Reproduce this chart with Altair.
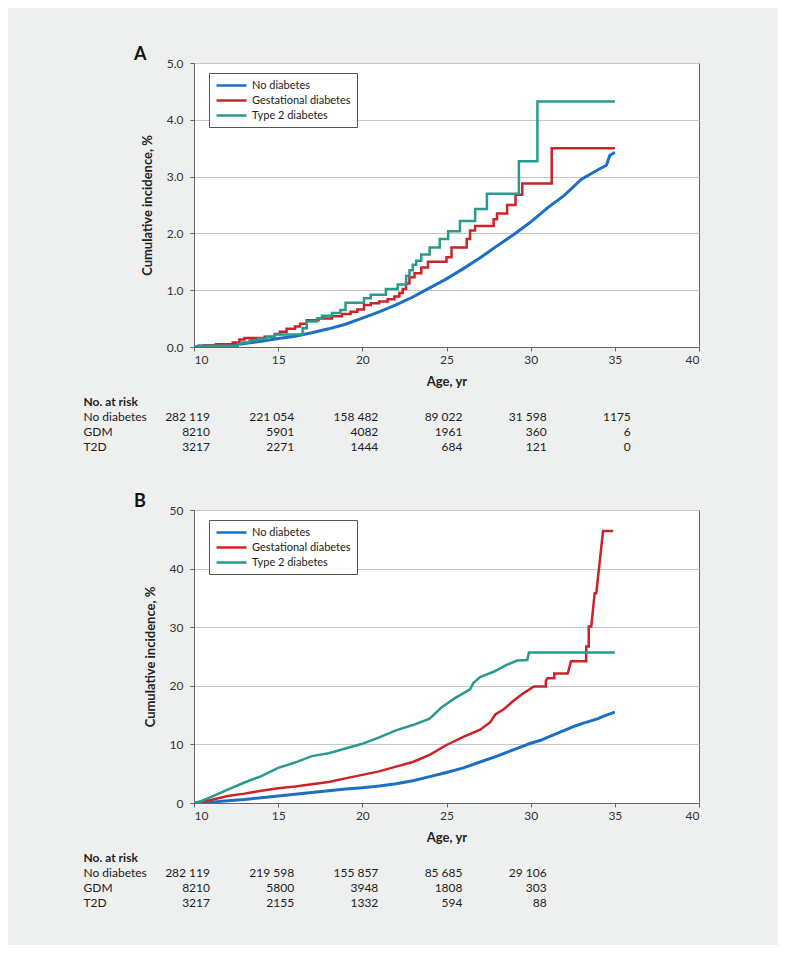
import altair as alt
import pandas as pd

FONT = "Lato"
SERIES = ["No diabetes", "Gestational diabetes", "Type 2 diabetes"]
COLORS = ["#1c6fc3", "#cc2229", "#2a9a8c"]
ROW_LABELS = ["No diabetes", "GDM", "T2D"]
X_TICKS = [10, 15, 20, 25, 30, 35, 40]

# ---------------- Panel A (cumulative incidence, %) ----------------
A_NO_AGE = [10, 11, 12, 13, 14, 15, 16, 17, 18, 19, 20, 21, 22, 23, 24, 25, 26, 27,
            28, 29, 30, 31, 32, 33, 34, 34.5, 34.7, 35]
A_NO_PCT = [0, 0.01, 0.03, 0.06, 0.10, 0.15, 0.19, 0.25, 0.32, 0.40, 0.51, 0.62, 0.74,
            0.88, 1.04, 1.20, 1.38, 1.57, 1.78, 1.98, 2.20, 2.45, 2.67, 2.95, 3.12, 3.20,
            3.37, 3.43]

A_GDM_AGE = [10.2, 10.6, 11.3, 12.3, 12.7, 13.0, 14.2, 14.8, 15.1, 15.5, 16.0, 16.3, 16.7,
             17.4, 18.2, 18.8, 19.3, 19.7, 20.1, 20.5, 21.0, 21.5, 21.9, 22.2, 22.4, 22.6,
             22.8, 23.1, 23.5, 23.9, 25.0, 25.3, 26.2, 26.4, 26.7, 27.8, 28.0, 28.6, 29.1,
             29.5, 31.25, 35]
A_GDM_PCT = [0.02, 0.03, 0.05, 0.08, 0.13, 0.16, 0.18, 0.23, 0.27, 0.32, 0.36, 0.41, 0.47,
             0.50, 0.54, 0.58, 0.62, 0.66, 0.74, 0.77, 0.80, 0.84, 0.89, 0.95, 1.02, 1.12,
             1.23, 1.30, 1.40, 1.50, 1.58, 1.75, 1.90, 2.05, 2.13, 2.25, 2.35, 2.50, 2.68,
             2.88, 3.50, 3.50]

A_T2D_AGE = [10.2, 12.6, 12.8, 13.3, 13.8, 14.3, 14.8, 16.45, 16.7, 17.3, 17.6, 18.2, 18.7,
             19.0, 20.1, 20.5, 21.4, 22.1, 22.6, 22.8, 23.0, 23.2, 23.5, 24.0, 24.6, 25.1,
             25.8, 26.7, 27.4, 29.3, 30.4, 35]
A_T2D_PCT = [0.02, 0.05, 0.08, 0.12, 0.15, 0.18, 0.22, 0.33, 0.45, 0.50, 0.55, 0.60, 0.65,
             0.78, 0.86, 0.92, 1.02, 1.10, 1.25, 1.35, 1.45, 1.52, 1.63, 1.75, 1.90, 2.04,
             2.22, 2.43, 2.70, 3.27, 4.32, 4.32]

A_RISK_AGES = [10, 15, 20, 25, 30, 35]
A_RISK_NO = ["282 119", "221 054", "158 482", "89 022", "31 598", "1175"]
A_RISK_GDM = ["8210", "5901", "4082", "1961", "360", "6"]
A_RISK_T2D = ["3217", "2271", "1444", "684", "121", "0"]

# ---------------- Panel B (cumulative incidence, %) ----------------
B_NO_AGE = [10, 11, 12, 13, 14, 15, 16, 17, 18, 19, 20, 21, 22, 23, 24, 25, 26, 27, 28,
            29, 30, 30.6, 31, 32, 32.6, 33, 34, 34.3, 35]
B_NO_PCT = [0, 0.15, 0.4, 0.6, 0.9, 1.2, 1.5, 1.8, 2.1, 2.4, 2.6, 2.9, 3.3, 3.8, 4.5, 5.2,
            6.0, 7.0, 8.0, 9.1, 10.2, 10.7, 11.2, 12.4, 13.1, 13.5, 14.4, 14.8, 15.5]

B_GDM_AGE = [10, 11, 12, 13, 14, 15, 16, 17, 18, 19, 20, 21, 22, 23, 24, 25, 26, 27, 27.6,
             27.9, 28.4, 29.0, 29.6, 30.2, 30.9, 30.9, 31.0, 31.4, 31.4, 32.2, 32.4, 33.3,
             33.3, 33.45, 33.45, 33.6, 33.8, 33.9, 34.3, 34.9]
B_GDM_PCT = [0, 0.5, 1.2, 1.6, 2.1, 2.5, 2.8, 3.2, 3.6, 4.2, 4.8, 5.4, 6.2, 7.0, 8.2, 9.9,
             11.3, 12.5, 13.8, 15.1, 16.0, 17.5, 18.8, 19.9, 19.9, 20.8, 21.3, 21.3, 22.1,
             22.1, 24.2, 24.2, 26.7, 26.7, 30.1, 30.1, 35.8, 35.8, 46.4, 46.4]

B_T2D_AGE = [10, 10.4, 11, 12, 13, 14, 15, 16, 17, 18, 19, 20, 21, 22, 23, 24, 24.7, 25.5,
             26.4, 26.6, 27.0, 27.8, 28.6, 29.2, 29.8, 29.9, 35]
B_T2D_PCT = [0, 0.3, 1.0, 2.3, 3.5, 4.6, 6.0, 6.9, 8.0, 8.5, 9.3, 10.1, 11.2, 12.4, 13.3,
             14.4, 16.3, 17.9, 19.4, 20.5, 21.5, 22.4, 23.6, 24.3, 24.4, 25.7, 25.7]

B_RISK_AGES = [10, 15, 20, 25, 30]
B_RISK_NO = ["282 119", "219 598", "155 857", "85 685", "29 106"]
B_RISK_GDM = ["8210", "5800", "3948", "1808", "303"]
B_RISK_T2D = ["3217", "2155", "1332", "594", "88"]


def series_df(ages, pcts, name):
    return pd.DataFrame({"age": ages, "pct": pcts, "series": name,
                         "i": list(range(len(ages)))})


def panel(letter, layers_spec, ymax, yticks, yfmt, height):
    x_enc = alt.X("age:Q", scale=alt.Scale(domain=[10, 40], nice=False, zero=False),
                  axis=alt.Axis(values=X_TICKS, title="Age, yr", grid=False, tickSize=4,
                                labelPadding=3, titlePadding=10, labelFontSize=12,
                                titleFontSize=13, titleFontWeight="bold"))
    y_enc = alt.Y("pct:Q", scale=alt.Scale(domain=[0, ymax], nice=False),
                  axis=alt.Axis(values=yticks, format=yfmt, title="Cumulative incidence, %",
                                grid=True, tickSize=4, labelPadding=7, titlePadding=12,
                                labelFontSize=12, titleFontSize=13, titleFontWeight="bold"))
    color_enc = alt.Color("series:N", scale=alt.Scale(domain=SERIES, range=COLORS),
                          legend=alt.Legend(orient="none", legendX=15, legendY=10, title=None,
                                            symbolType="M-1,0L5,0", symbolSize=100,
                                            symbolStrokeWidth=2.5, labelFont=FONT,
                                            labelFontSize=11, labelColor="#222",
                                            fillColor="white", strokeColor="#555",
                                            padding=6, rowPadding=3, labelOffset=24))
    layers = []
    for df, interp, w in layers_spec:
        layers.append(alt.Chart(df).mark_line(interpolate=interp, strokeWidth=w, clip=True)
                      .encode(x=x_enc, y=y_enc, color=color_enc, order="i:Q"))
    return alt.layer(*layers).properties(
        width=505, height=height,
        title=alt.TitleParams(letter, anchor="start", frame="group", dx=-60, offset=-7,
                              font=FONT, fontSize=18, fontWeight="bold", color="#111"))


def risk_table(ages, no, gdm, t2d):
    rows = []
    for lab, vals in zip(ROW_LABELS, [no, gdm, t2d]):
        for a, v in zip(ages, vals):
            rows.append({"age": a, "row": lab, "txt": v})
    df = pd.DataFrame(rows)
    return alt.Chart(df).mark_text(align="right", baseline="middle", dx=16, font=FONT,
                                   fontSize=12, color="#222").encode(
        x=alt.X("age:Q", scale=alt.Scale(domain=[10, 40], nice=False, zero=False), axis=None),
        y=alt.Y("row:N", sort=ROW_LABELS,
                axis=alt.Axis(title="No. at risk", titleAngle=0, titleAlign="left",
                              titleBaseline="middle", titleX=-111, titleY=-7.5,
                              titleFontSize=12, titleFontWeight="bold",
                              labelAlign="left", labelPadding=111, tickSize=0, ticks=False,
                              domain=False, labelFontSize=12, labelColor="#222")),
        text="txt:N",
    ).properties(width=505, height=45,
                 view=alt.ViewBackground(strokeOpacity=0, fillOpacity=0))


panelA = panel("A", [
    (series_df(A_NO_AGE, A_NO_PCT, SERIES[0]), "linear", 3),
    (series_df(A_GDM_AGE, A_GDM_PCT, SERIES[1]), "step-after", 2.5),
    (series_df(A_T2D_AGE, A_T2D_PCT, SERIES[2]), "step-after", 2.5),
], 5, [0, 1, 2, 3, 4, 5], ".1f", 284)

panelB = panel("B", [
    (series_df(B_NO_AGE, B_NO_PCT, SERIES[0]), "linear", 3),
    (series_df(B_GDM_AGE, B_GDM_PCT, SERIES[1]), "linear", 2.5),
    (series_df(B_T2D_AGE, B_T2D_PCT, SERIES[2]), "linear", 2.5),
], 50, [0, 10, 20, 30, 40, 50], "d", 293)

blockA = alt.vconcat(panelA, risk_table(A_RISK_AGES, A_RISK_NO, A_RISK_GDM, A_RISK_T2D),
                     spacing=6).resolve_legend(color="independent")
blockB = alt.vconcat(panelB, risk_table(B_RISK_AGES, B_RISK_NO, B_RISK_GDM, B_RISK_T2D),
                     spacing=6).resolve_legend(color="independent")

chart = alt.vconcat(blockA, blockB, spacing=38).resolve_legend(
    color="independent"
).properties(
    background="#eeefef",
    padding={"left": 75, "top": 37, "right": 78, "bottom": 35},
).configure_view(
    stroke="#666", strokeWidth=1, fill="white"
).configure_axis(
    labelFont=FONT, titleFont=FONT, labelColor="#333", titleColor="#222",
    domainColor="#666", tickColor="#666", gridColor="#c8c8c8", gridWidth=1
)

chart.save("out.html", embed_options={"renderer": "svg", "actions": False})
